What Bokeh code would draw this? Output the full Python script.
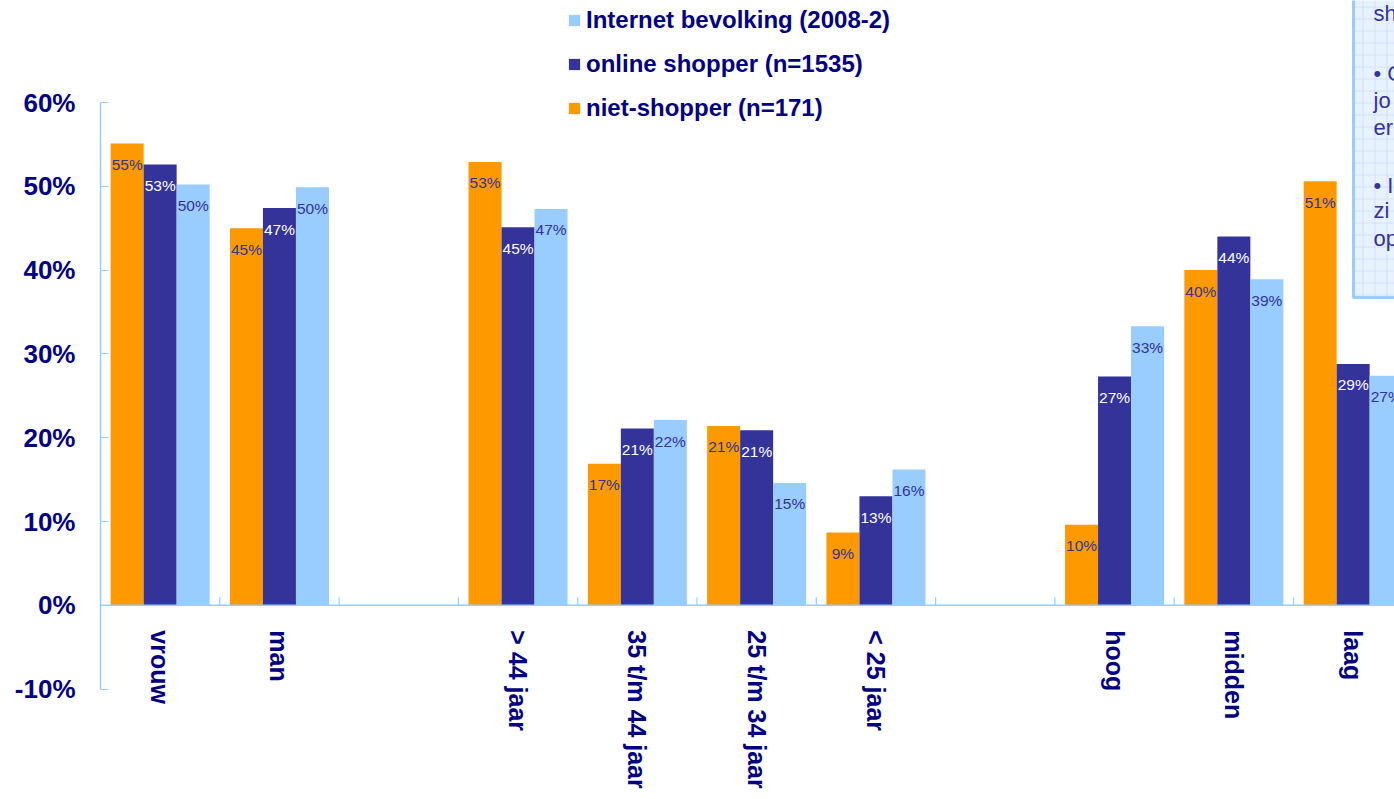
import math
from bokeh.plotting import figure
from bokeh.models import (Range1d, LinearAxis, NumeralTickFormatter, FixedTicker,
                          Legend, LegendItem, Span, ColumnDataSource)
from bokeh.core.properties import value
from bokeh.embed import file_html
from bokeh.resources import INLINE

# ---------------- data ----------------
groups = [["vrouw", "man"],
          ["> 44 jaar", "35 t/m 44 jaar", "25 t/m 34 jaar", "< 25 jaar"],
          ["hoog", "midden", "laag"]]
series_names = ["niet-shopper (n=171)", "online shopper (n=1535)", "Internet bevolking (2008-2)"]
niet_shopper = [0.551, 0.450, 0.529, 0.169, 0.214, 0.087, 0.096, 0.400, 0.506]
online_shopper = [0.526, 0.474, 0.451, 0.211, 0.209, 0.130, 0.273, 0.440, 0.288]
internet_bevolking = [0.502, 0.499, 0.473, 0.221, 0.146, 0.162, 0.333, 0.389, 0.274]
y_ticks = [-0.1, 0.0, 0.1, 0.2, 0.3, 0.4, 0.5, 0.6]
note_lines = ["sh", "\u2022 C", "jo", "er", "\u2022 I", "zi", "op"]

# ---------------- layout constants ----------------
W, H = 1394, 799
FRAME_L = 100
SLOT_PX = 119.3
PX_PER_UNIT = 838.0
Y60_PX = 102
x_end = (W - FRAME_L) / SLOT_PX
y_end = 0.6 + Y60_PX / PX_PER_UNIT
y_start = 0.6 - (H - Y60_PX) / PX_PER_UNIT

def px2x(px):
    return (px - FRAME_L) / SLOT_PX

def py2y(py):
    return y_end - py / PX_PER_UNIT

ORANGE = "#FF9900"
NAVY = "#333399"
LIGHT = "#99CCFF"
TEXT_NAVY = "#000080"
FONT = "Liberation Sans"

# slot positions: a one-slot gap between groups
cats, slots = [], []
s = 0
for g in groups:
    for c in g:
        cats.append(c)
        slots.append(s)
        s += 1
    s += 1
boundaries = list(range(1, s))

BAR_W = 33 / SLOT_PX
centers = [sl + 0.5 for sl in slots]

p = figure(width=W, height=H, output_backend="svg", toolbar_location=None,
           x_range=Range1d(0, x_end), y_range=Range1d(y_start, y_end),
           x_axis_location=None, y_axis_location=None,
           min_border_left=FRAME_L, min_border_right=0, min_border_top=0, min_border_bottom=0)
p.grid.visible = False
p.outline_line_color = None
p.background_fill_color = "white"

# note box (partially visible at right edge)
p.quad(left=[px2x(1353)], right=[x_end + 1], bottom=[py2y(297)], top=[y_end + 1],
       fill_color="#E8F2FF", line_color="#99CCFF", line_width=3,
       hatch_pattern="+", hatch_color="#CFE2FA", hatch_scale=12, hatch_weight=1)
note_y_px = [13, 73, 100, 127, 185, 210, 238]
p.text(x=[px2x(1373)] * len(note_lines), y=[py2y(v) for v in note_y_px], text=note_lines,
       text_font=value(FONT), text_font_size="22px", text_color=NAVY,
       text_align="left", text_baseline="middle")

# zero line and category ticks
p.add_layout(Span(location=0, dimension="width", line_color=LIGHT, line_width=1.5))
p.ray(x=boundaries, y=[0] * len(boundaries), length=8, length_units="screen",
      angle=math.pi / 2, line_color=LIGHT, line_width=1.2)

series = [(niet_shopper, ORANGE, NAVY, -BAR_W),
          (online_shopper, NAVY, "white", 0.0),
          (internet_bevolking, LIGHT, NAVY, BAR_W)]
renderers = []
for vals, col, lcol, dx in series:
    src = ColumnDataSource(dict(x=[c + dx for c in centers], top=vals,
                                lab=[f"{round(v * 100):d}%" for v in vals]))
    r = p.vbar(x="x", top="top", bottom=0, width=BAR_W, source=src,
               fill_color=col, line_color=None)
    renderers.append(r)
    p.text(x="x", y="top", text="lab", source=src, text_align="center",
           text_baseline="middle", y_offset=21, text_font=value(FONT),
           text_font_size="15.5px", text_color=lcol)

# category labels (rotated)
p.text(x=centers, y=[0] * len(centers), text=cats, angle=-math.pi / 2,
       text_align="left", text_baseline="middle", y_offset=25,
       text_font=value(FONT), text_font_size="25px", text_font_style="bold",
       text_color=TEXT_NAVY)

# y axis
yax = LinearAxis(bounds=(-0.1, 0.6), ticker=FixedTicker(ticks=y_ticks),
                 formatter=NumeralTickFormatter(format="0%"),
                 axis_line_color=LIGHT, axis_line_width=1.5,
                 major_tick_in=8, major_tick_out=0, major_tick_line_color=LIGHT,
                 minor_tick_line_color=None,
                 major_label_text_font=FONT, major_label_text_font_style="bold",
                 major_label_text_font_size="26px", major_label_text_color=TEXT_NAVY,
                 major_label_standoff=25)
p.add_layout(yax, "left")

# legend
items = [LegendItem(label=series_names[2], renderers=[renderers[2]]),
         LegendItem(label=series_names[1], renderers=[renderers[1]]),
         LegendItem(label=series_names[0], renderers=[renderers[0]])]
legend = Legend(items=items, location=(467, 677), background_fill_alpha=0,
                border_line_color=None, padding=0, margin=0, spacing=16,
                label_height=28, glyph_width=14, glyph_height=14, label_standoff=5,
                label_text_font=FONT, label_text_font_size="24px",
                label_text_font_style="bold", label_text_color=TEXT_NAVY)
p.add_layout(legend)

open("out.html", "w").write(file_html(p, INLINE))
